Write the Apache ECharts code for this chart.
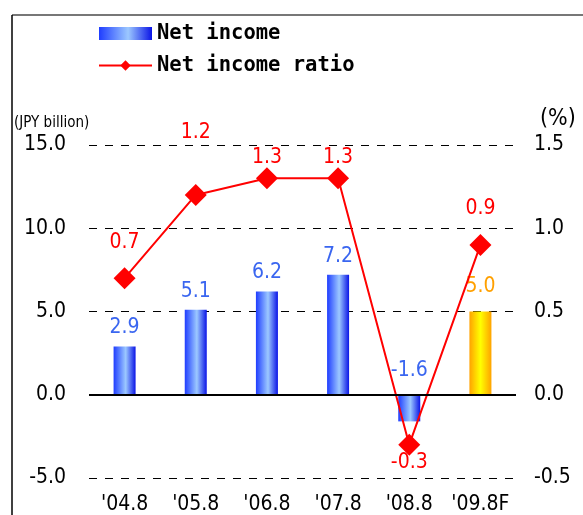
<!DOCTYPE html>
<html>
<head>
<meta charset="utf-8">
<script src="https://cdn.jsdelivr.net/npm/echarts@6/dist/echarts.min.js"></script>
<style>
  html, body { margin: 0; padding: 0; background: #fff; }
  #chart { width: 583px; height: 515px; }
</style>
</head>
<body>
<div id="chart"></div>
<script>
// ── data ────────────────────────────────────────────────
const categories = ["'04.8", "'05.8", "'06.8", "'07.8", "'08.8", "'09.8F"];
const netIncome = [2.9, 5.1, 6.2, 7.2, -1.6, 5.0];          // JPY billion
const netIncomeRatio = [0.7, 1.2, 1.3, 1.3, -0.3, 0.9];     // %
const forecastIndex = 5;                                      // '09.8F is a forecast
const leftTicks = { min: -5, max: 15, interval: 5 };
const rightTicks = { min: -0.5, max: 1.5, interval: 0.5 };

// ── styles ──────────────────────────────────────────────
const FONT = "'Liberation Sans Narrow', 'DejaVu Sans Condensed', 'Roboto Condensed', sans-serif";
const blueGrad = new echarts.graphic.LinearGradient(0, 0, 1, 0, [
  { offset: 0, color: '#1f3dff' },
  { offset: 0.55, color: '#9cc8ff' },
  { offset: 1, color: '#0a14e6' }
]);
const goldGrad = new echarts.graphic.LinearGradient(0, 0, 1, 0, [
  { offset: 0, color: '#ffa200' },
  { offset: 0.5, color: '#ffff00' },
  { offset: 1, color: '#ffa200' }
]);
// label offsets (px, negative = up) for the ratio line, by point index
const ratioLabelDy = [-36, -62, -21, -21, 18, -36];

const barData = netIncome.map((v, i) => {
  if (i === forecastIndex) return { value: v, itemStyle: { color: goldGrad }, label: { color: '#ffa000', distance: 14 } };
  if (v < 0) return { value: v, label: { distance: 14 } };
  return v;
});

const lineData = netIncomeRatio.map((v, i) => ({
  value: v,
  label: { offset: [0, ratioLabelDy[i]] }
}));

const chart = echarts.init(document.getElementById('chart'), null, { renderer: 'canvas' });
chart.setOption({
  animation: false,
  textStyle: { fontFamily: FONT },
  grid: { left: 89, right: 67, top: 145, bottom: 34, containLabel: false },
  legend: {
    orient: 'vertical',
    left: 93, top: 18,
    itemWidth: 53, itemHeight: 13, itemGap: 11,
    textStyle: { fontFamily: "'DejaVu Sans Mono', monospace", fontWeight: 'bold', fontSize: 20.5, color: '#000' },
    data: [{ name: 'Net income', icon: 'rect' }, 'Net income ratio']
  },
  xAxis: {
    type: 'category',
    data: categories,
    axisLine: { show: false },
    axisTick: { show: false },
    axisLabel: { color: '#000', fontSize: 21, margin: 16, interval: 0, fontFamily: FONT }
  },
  yAxis: [
    {
      type: 'value', ...leftTicks,
      name: '(JPY billion)', nameLocation: 'end', nameGap: 14,
      nameTextStyle: { color: '#000', fontSize: 15, align: 'left', padding: [0, 0, 0, -75] },
      axisLine: { show: false }, axisTick: { show: false },
      axisLabel: { color: '#000', fontSize: 21, margin: 23, formatter: v => v.toFixed(1) },
      splitLine: { lineStyle: { color: '#000', type: [8, 8], width: 1 } }
    },
    {
      type: 'value', ...rightTicks,
      name: '(%)', nameLocation: 'end', nameGap: 14,
      nameTextStyle: { color: '#000', fontSize: 23, align: 'left', padding: [0, 0, 0, 24] },
      axisLine: { show: false }, axisTick: { show: false },
      axisLabel: { color: '#000', fontSize: 21, margin: 18, formatter: v => v.toFixed(1) },
      splitLine: { show: false }
    }
  ],
  series: [
    {
      name: 'Net income',
      type: 'bar',
      yAxisIndex: 0,
      barWidth: 22,
      data: barData,
      itemStyle: { color: blueGrad },
      label: {
        show: true, position: 'top', distance: 8,
        color: '#3a66f0', fontSize: 21, fontFamily: FONT,
        formatter: p => p.value.toFixed(1)
      },
      markLine: {
        silent: true, symbol: 'none', label: { show: false },
        lineStyle: { color: '#000', type: 'solid', width: 2 },
        data: [{ yAxis: 0 }]
      },
      z: 2
    },
    {
      name: 'Net income ratio',
      type: 'line',
      yAxisIndex: 1,
      data: lineData,
      symbol: 'diamond',
      symbolSize: 22,
      color: '#ff0000',
      lineStyle: { color: '#ff0000', width: 2 },
      itemStyle: { color: '#ff0000' },
      label: {
        show: true, position: 'inside',
        color: '#ff0000', fontSize: 21, fontFamily: FONT,
        formatter: p => p.value.toFixed(1)
      },
      z: 3
    }
  ],
  graphic: [
    { type: 'line', shape: { x1: 12, y1: 15, x2: 583, y2: 15 }, style: { stroke: '#777', lineWidth: 2 } },
    { type: 'line', shape: { x1: 12, y1: 15, x2: 12, y2: 515 }, style: { stroke: '#000', lineWidth: 1.5 } }
  ]
});
</script>
</body>
</html>
